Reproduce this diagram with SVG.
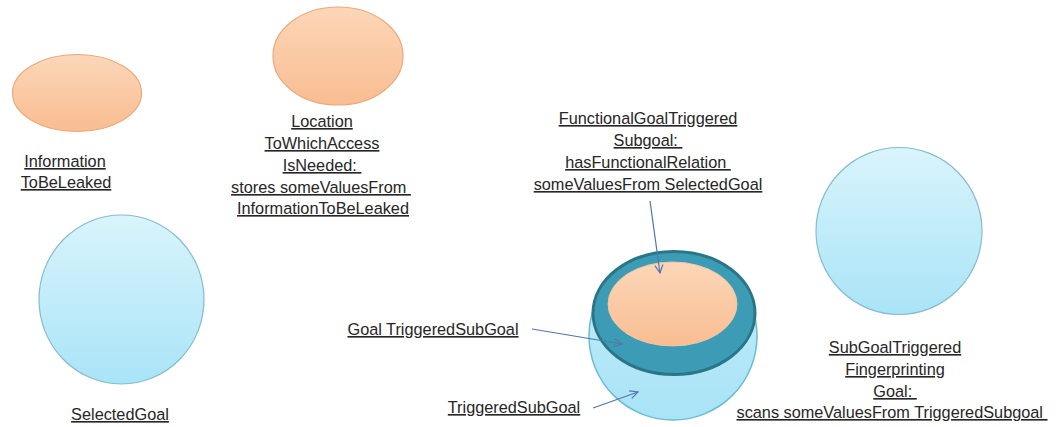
<svg xmlns="http://www.w3.org/2000/svg" width="1056" height="427" viewBox="0 0 1056 427">
  <style>
    .lbl { font-family: "Liberation Sans", Arial, sans-serif; font-size: 16.3px; fill: #262626; text-decoration: underline; text-anchor: middle; white-space: pre; }
    .peach { fill: url(#peachFill); stroke: #e9a97c; stroke-width: 1.2; }
    .sky { fill: url(#skyFill); stroke: #86bccc; stroke-width: 1.2; }
    .conn { fill: none; stroke: #4f79aa; stroke-width: 1.2; marker-end: url(#openHead); }
  </style>
  <defs>
    <linearGradient id="peachFill" x1="0" y1="0" x2="0" y2="1">
      <stop offset="0" stop-color="#fcd7b9"/>
      <stop offset="1" stop-color="#f9bd91"/>
    </linearGradient>
    <linearGradient id="skyFill" x1="0" y1="0" x2="0" y2="1">
      <stop offset="0" stop-color="#d9f4fc"/>
      <stop offset="1" stop-color="#a9e4f7"/>
    </linearGradient>
    <linearGradient id="outerFill" x1="0" y1="0" x2="0" y2="1">
      <stop offset="0" stop-color="#c4eefb"/>
      <stop offset="1" stop-color="#a8e3f6"/>
    </linearGradient>
    <marker id="openHead" viewBox="0 0 10 10" refX="9" refY="5" markerWidth="10" markerHeight="10" markerUnits="userSpaceOnUse" orient="auto">
      <path d="M1,1 L9,5 L1,9" fill="none" stroke="#4f79aa" stroke-width="1.2"/>
    </marker>
  </defs>

  <!-- Information to be leaked -->
  <g id="information-to-be-leaked">
    <ellipse class="peach" cx="77" cy="93" rx="64.5" ry="38.5"/>
    <text class="lbl" x="65" y="167">Information</text>
    <text class="lbl" x="66" y="188">ToBeLeaked</text>
  </g>

  <!-- Location to which access is needed -->
  <g id="location-to-which-access">
    <ellipse class="peach" cx="338" cy="56" rx="65" ry="49"/>
    <text class="lbl" x="322" y="127">Location</text>
    <text class="lbl" x="322" y="149">ToWhichAccess</text>
    <text class="lbl" x="322" y="171" xml:space="preserve">IsNeeded: </text>
    <text class="lbl" x="321" y="193" xml:space="preserve">stores someValuesFrom </text>
    <text class="lbl" x="323" y="214">InformationToBeLeaked</text>
  </g>

  <!-- Selected goal -->
  <g id="selected-goal">
    <ellipse class="sky" cx="121.5" cy="299.5" rx="82.5" ry="84.5"/>
    <text class="lbl" x="120" y="420">SelectedGoal</text>
  </g>

  <!-- Nested goal hierarchy -->
  <g id="triggered-subgoal">
    <circle cx="673" cy="336" r="84" fill="url(#outerFill)" stroke="#6cbcd3" stroke-width="1.5"/>
  </g>
  <g id="goal-triggered-subgoal">
    <ellipse cx="674" cy="313" rx="81" ry="61.5" fill="#3c9bb5" stroke="#2a7689" stroke-width="3"/>
  </g>
  <g id="functional-goal-triggered-subgoal">
    <ellipse cx="672.5" cy="304" rx="64.5" ry="42" fill="url(#peachFill)" stroke="#f4c6a3" stroke-width="1"/>
  </g>

  <!-- Labels for the nested goals -->
  <g id="functional-label">
    <text class="lbl" x="648" y="124">FunctionalGoalTriggered</text>
    <text class="lbl" x="648" y="146" xml:space="preserve">Subgoal: </text>
    <text class="lbl" x="648" y="168" xml:space="preserve">hasFunctionalRelation </text>
    <text class="lbl" x="648" y="190">someValuesFrom SelectedGoal</text>
  </g>
  <g id="goal-triggered-label">
    <text class="lbl" x="433" y="335">Goal TriggeredSubGoal</text>
  </g>
  <g id="triggered-label">
    <text class="lbl" x="514" y="413">TriggeredSubGoal</text>
  </g>

  <!-- Subgoal triggered fingerprinting goal -->
  <g id="fingerprinting-goal">
    <ellipse class="sky" cx="899" cy="231" rx="83" ry="83.5"/>
    <text class="lbl" x="895" y="353">SubGoalTriggered</text>
    <text class="lbl" x="895" y="375">Fingerprinting</text>
    <text class="lbl" x="895" y="397" xml:space="preserve">Goal: </text>
    <text class="lbl" x="892" y="418" xml:space="preserve">scans someValuesFrom TriggeredSubgoal </text>
  </g>

  <!-- Connectors -->
  <g id="connectors">
    <line class="conn" x1="650" y1="201" x2="660" y2="273"/>
    <line class="conn" x1="532" y1="329" x2="622" y2="344"/>
    <line class="conn" x1="593" y1="408" x2="638" y2="392"/>
  </g>
</svg>
